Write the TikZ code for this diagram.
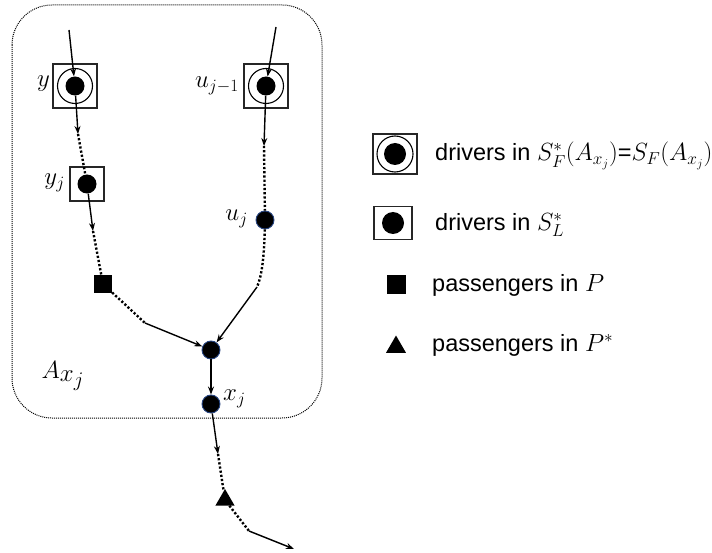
\documentclass[tikz,border=0pt]{standalone}
\usepackage{fontspec}
\setsansfont{Liberation Sans}
\usetikzlibrary{arrows.meta,shapes.geometric}
\definecolor{dotrim}{RGB}{40,70,130}
\newcommand{\bigmath}[1]{{\fontsize{27}{30}\selectfont$#1$}}
\newcommand{\midmath}[1]{{\fontsize{25}{28}\selectfont$#1$}}
\begin{document}
\begin{tikzpicture}[x=1pt,y=-1pt,
  tip/.style={-{Stealth[length=8pt,width=6pt]}, line width=1.4pt},
  dots/.style={line width=2.4pt, dash pattern=on 2.2pt off 2pt},
  frame/.style={draw=black, line width=1pt, dash pattern=on 1pt off 1pt, rounded corners=40pt},
  box/.style={draw=black!85, line width=1.1pt, minimum width=44pt, minimum height=44pt, inner sep=0pt},
  smallbox/.style={draw=black!85, line width=1.1pt, minimum size=34pt, inner sep=0pt},
  ring/.style={circle, draw, line width=1.1pt, minimum size=35pt, inner sep=0pt},
  dot/.style={circle, fill=black, minimum size=19pt, inner sep=0pt},
  bdot/.style={circle, fill=black, draw=dotrim, line width=0.9pt, minimum size=18pt, inner sep=0pt},
  pas/.style={rectangle, fill=black, minimum size=18pt, inner sep=0pt},
  tri/.style={regular polygon, regular polygon sides=3, fill=black, minimum size=22pt, inner sep=0pt},
  lbl/.style={font=\fontsize{27}{30}\selectfont, inner sep=1pt},
  legtext/.style={font=\sffamily\fontsize{23.5}{28}\selectfont, anchor=west, inner sep=2pt}
]
\useasboundingbox (0,0) rectangle (712,553);

% the dotted region A_{x_j}
\draw[frame] (12,5) rectangle (322,418);
\node[font=\fontsize{40}{46}\selectfont] (alab) at (63,376) {$A_{x_j}$};

% drivers y and u_{j-1}
\node[box] (yb) at (75,86) {};
\node[ring] (yr) at (75,86) {};
\node[dot] (y) at (75,86) {};
\node[lbl, anchor=east] (ylab) at (51,84) {$y$};

\node[box] (ub) at (266,86) {};
\node[ring] (ur) at (266,86) {};
\node[dot] (u1) at (266,86) {};
\node[lbl, anchor=east] (u1lab) at (240,86) {$u_{j-1}$};

% driver y_j
\node[smallbox] (yjb) at (87,184) {};
\node[dot] (yj) at (87,184) {};
\node[lbl, anchor=east] (yjlab) at (66,183) {$y_j$};

% passenger in P and the other drivers
\node[pas] (p1) at (103,284) {};
\node[bdot] (uj) at (265,220) {};
\node[lbl, anchor=east] (ujlab) at (249,219) {$u_j$};
\node[bdot] (m) at (211,350) {};
\node[bdot] (xj) at (211,404) {};
\node[lbl, anchor=west] (xjlab) at (222,399) {$x_j$};
\node[tri] (t) at (225,500) {};

% bend points of the routes
\coordinate (yin) at (69,30);
\coordinate (uin) at (276,27);
\coordinate (ya) at (78,134);
\coordinate (yja) at (93,231);
\coordinate (pb) at (145,323);
\coordinate (u1a) at (264,146);
\coordinate (ujb) at (257,287);
\coordinate (xa) at (218,454);
\coordinate (tb) at (249,531);
\coordinate (out) at (294,549);

% routes
\draw[tip] (yin) -- (y);
\draw[tip] (uin) -- (u1);
\draw[tip] (y) -- (ya);
\draw[dots] (ya) -- (yj);
\draw[tip] (yj) -- (yja);
\draw[dots] (yja) -- (p1);
\draw[dots] (p1) -- (pb);
\draw[tip] (pb) -- (m);
\draw[tip] (u1) -- (u1a);
\draw[dots] (u1a) -- (uj);
\draw[dots] (uj) .. controls (264,262) and (261,278) .. (ujb);
\draw[tip] (ujb) -- (m);
\draw[tip] (m) -- (xj);
\draw[tip] (xj) -- (xa);
\draw[dots] (xa) -- (t);
\draw[dots] (t) -- (tb);
\draw[tip] (tb) -- (out);

% legend
\node[box, minimum width=44pt, minimum height=40pt] (l1b) at (395,154) {};
\node[ring, minimum size=36pt] (l1r) at (395,154) {};
\node[dot, minimum size=22pt] (l1d) at (395,154) {};
\node[legtext] (l1) at (433,156) {drivers in \midmath{S_F^*(A_{x_j})}=\midmath{S_F(A_{x_j})}};

\node[box, minimum width=38pt, minimum height=33pt] (l2b) at (393,223) {};
\node[dot, minimum size=22pt] (l2d) at (393,223) {};
\node[legtext] (l2) at (433,225) {drivers in \bigmath{S_L^*}};

\node[pas, minimum size=19pt] (l3s) at (396,285) {};
\node[legtext] (l3) at (430,285) {passengers in \bigmath{P}};

\node[tri, minimum size=23pt] (l4t) at (396,347) {};
\node[legtext] (l4) at (430,345) {passengers in \bigmath{P^*}};
\end{tikzpicture}
\end{document}
